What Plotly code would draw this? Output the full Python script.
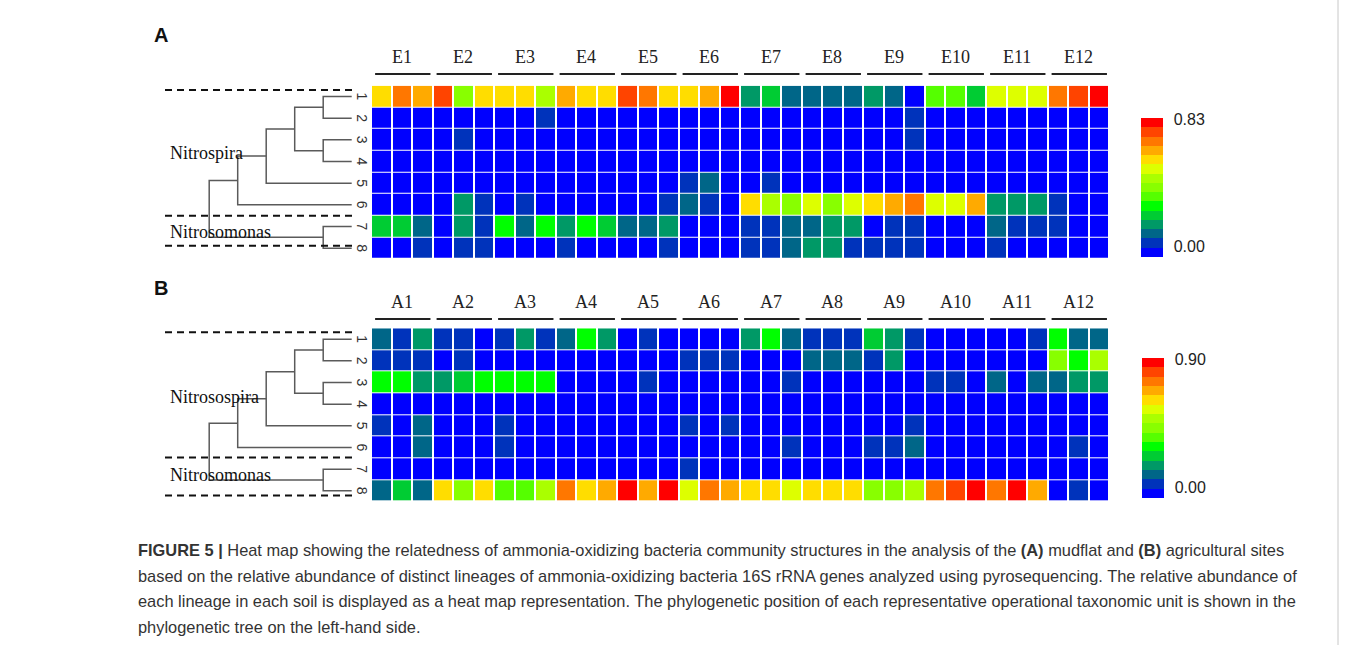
import plotly.graph_objects as go

W, H = 1357, 645

# ---------------- data (colour level 0..14) ----------------
mud_samples = [f"E{i}" for i in range(1, 13)]
agr_samples = [f"A{i}" for i in range(1, 13)]
row_labels = ["1", "2", "3", "4", "5", "6", "7", "8"]

mud_r1 = [10, 12, 11, 13, 7, 10, 10, 10, 8, 11, 10, 10, 13, 12, 10, 10, 11, 14, 3, 4, 2, 2, 2, 2, 3, 2, 0, 6, 6, 4, 9, 9, 9, 12, 13, 14]
mud_r2 = [0, 0, 0, 0, 0, 0, 0, 0, 1, 0, 0, 0, 0, 0, 0, 0, 0, 0, 0, 0, 0, 0, 0, 0, 0, 0, 1, 0, 0, 0, 0, 0, 0, 0, 0, 0]
mud_r3 = [0, 0, 0, 0, 1, 0, 0, 0, 0, 0, 0, 0, 0, 0, 0, 0, 0, 0, 0, 0, 0, 0, 0, 0, 0, 0, 1, 0, 0, 0, 0, 0, 0, 0, 0, 0]
mud_r4 = [0] * 36
mud_r5 = [0, 0, 0, 0, 0, 0, 0, 0, 0, 0, 0, 0, 0, 0, 0, 1, 2, 0, 0, 1, 0, 0, 0, 0, 0, 0, 0, 0, 0, 0, 0, 0, 0, 0, 0, 0]
mud_r6 = [0, 0, 0, 0, 3, 1, 0, 1, 0, 0, 0, 0, 0, 0, 1, 2, 1, 0, 10, 8, 7, 9, 7, 9, 10, 11, 12, 9, 9, 11, 3, 3, 3, 1, 0, 0]
mud_r7 = [4, 4, 2, 0, 3, 1, 5, 2, 5, 3, 5, 4, 2, 2, 3, 0, 0, 0, 1, 1, 2, 2, 3, 3, 0, 1, 1, 0, 0, 0, 2, 1, 1, 1, 0, 0]
mud_r8 = [0, 0, 1, 0, 1, 1, 0, 0, 0, 1, 0, 0, 0, 0, 1, 0, 0, 0, 1, 1, 2, 3, 3, 1, 1, 1, 1, 0, 0, 0, 1, 0, 0, 0, 0, 0]

agr_r1 = [2, 1, 3, 1, 1, 0, 1, 3, 1, 2, 5, 3, 0, 1, 0, 0, 0, 0, 3, 5, 2, 1, 1, 1, 4, 3, 1, 0, 0, 0, 0, 0, 1, 5, 2, 2]
agr_r2 = [1, 1, 1, 0, 1, 0, 0, 0, 0, 0, 0, 0, 0, 0, 0, 1, 1, 1, 0, 0, 0, 2, 2, 2, 1, 3, 0, 0, 0, 0, 0, 0, 0, 7, 5, 8]
agr_r3 = [5, 5, 3, 3, 4, 5, 5, 5, 5, 0, 0, 0, 0, 1, 0, 0, 0, 0, 0, 0, 1, 0, 0, 0, 0, 0, 0, 1, 1, 0, 2, 0, 2, 2, 3, 3]
agr_r4 = [0] * 36
agr_r5 = [1, 0, 2, 0, 0, 0, 1, 0, 0, 0, 0, 0, 0, 0, 0, 1, 0, 1, 0, 0, 0, 0, 0, 0, 0, 0, 1, 0, 0, 0, 0, 0, 0, 0, 0, 0]
agr_r6 = [0, 0, 2, 0, 0, 0, 1, 0, 0, 0, 0, 0, 0, 0, 0, 0, 0, 0, 0, 0, 1, 0, 0, 0, 1, 1, 2, 0, 0, 0, 0, 0, 0, 0, 1, 0]
agr_r7 = [0, 0, 0, 0, 0, 0, 0, 0, 0, 0, 0, 0, 0, 0, 0, 1, 0, 0, 0, 0, 0, 0, 0, 0, 0, 0, 0, 0, 0, 0, 0, 0, 0, 0, 0, 0]
agr_r8 = [2, 4, 2, 10, 7, 10, 6, 6, 8, 12, 10, 11, 14, 11, 14, 9, 12, 11, 10, 10, 9, 10, 10, 10, 7, 7, 8, 12, 13, 14, 12, 14, 11, 0, 1, 0]

mud_max_label = "0.83"
agr_max_label = "0.90"

# dendrogram: leaves 0..7, merges (child_a, child_b, depth)
tree_merges = [(0, 1, 1), (2, 3, 1), (8, 9, 2), (10, 4, 3), (11, 5, 4), (6, 7, 1), (12, 13, 5)]

# ---------------- styling ----------------
level_colors = ["#0000FF", "#0033BB", "#006688", "#009966", "#00CC33", "#00FF00", "#55FF00",
                "#88FF00", "#AAFF00", "#DDFF00", "#FFDD00", "#FFAA00", "#FF7700", "#FF4400", "#FF0000"]
n = len(level_colors)
cscale = []
for i, c in enumerate(level_colors):
    cscale.append([i / n, c])
    cscale.append([(i + 1) / n, c])


def fx(px):
    return px / W


def fy(py):
    return 1 - py / H


SERIF = "Liberation Serif"
SANS = "Liberation Sans"

fig = go.Figure()

panels = [
    dict(z=[mud_r1, mud_r2, mud_r3, mud_r4, mud_r5, mud_r6, mud_r7, mud_r8], samples=mud_samples,
         top=85.7, bot=259.0, xa="x", ya="y", xd="x3", cb_top=118, cb_x=1141, cb_len=139,
         maxlab=mud_max_label, letter="A", letter_y=35, lab_y=57, line_y=74,
         dashes=[-0.30, 5.50, 6.89], genus=("Nitrospira", 153), genus2=("Nitrosomonas", 231.7)),
    dict(z=[agr_r1, agr_r2, agr_r3, agr_r4, agr_r5, agr_r6, agr_r7, agr_r8], samples=agr_samples,
         top=328.3, bot=501.7, xa="x2", ya="y2", xd="x4", cb_top=358, cb_x=1142, cb_len=140,
         maxlab=agr_max_label, letter="B", letter_y=288, lab_y=302, line_y=319,
         dashes=[-0.32, 5.46, 7.21], genus=("Nitrosospira", 396.7), genus2=("Nitrosomonas", 475)),
]

X0, X1 = 371, 1109
LEAF_PX, STEP_PX = 351.7, 28.5

shapes, annotations = [], []
layout_axes = {}

for k, p in enumerate(panels):
    fig.add_trace(go.Heatmap(
        z=p["z"], x=list(range(36)), y=list(range(8)),
        colorscale=cscale, zmin=-0.5, zmax=14.5, xgap=2, ygap=1,
        xaxis=p["xa"], yaxis=p["ya"], hoverinfo="skip",
        colorbar=dict(x=fx(p["cb_x"]), xanchor="left", y=fy(p["cb_top"]), yanchor="top",
                      len=p["cb_len"], lenmode="pixels", thickness=22, thicknessmode="pixels",
                      outlinewidth=0, xpad=0, ypad=0,
                      tickvals=[0.6, 14.4], ticktext=["0.00", p["maxlab"]],
                      ticks="outside", ticklen=8, tickcolor="rgba(0,0,0,0)",
                      tickfont=dict(family=SANS, size=16, color="#222")),
    ))
    ydom = [fy(p["bot"]), fy(p["top"])]
    xname = "xaxis" if k == 0 else "xaxis2"
    yname = "yaxis" if k == 0 else "yaxis2"
    dname = "xaxis3" if k == 0 else "xaxis4"
    layout_axes[xname] = dict(domain=[fx(X0), fx(X1)], range=[-0.5, 35.5], anchor=p["ya"],
                              visible=False, fixedrange=True)
    layout_axes[yname] = dict(domain=ydom, range=[7.5, -0.5], anchor=p["xa"],
                              visible=False, fixedrange=True)
    layout_axes[dname] = dict(domain=[0, fx(X0)], anchor=p["ya"], visible=False,
                              range=[LEAF_PX / STEP_PX, (LEAF_PX - X0) / STEP_PX])

    # dendrogram
    pos = {i: (0, float(i)) for i in range(8)}
    xs, ys = [], []
    for j, (a, b, d) in enumerate(tree_merges):
        da, ya_ = pos[a]
        db, yb_ = pos[b]
        xs += [da, d, d, db, None]
        ys += [ya_, ya_, yb_, yb_, None]
        pos[8 + j] = (d, (ya_ + yb_) / 2)
    fig.add_trace(go.Scatter(x=xs, y=ys, mode="lines", xaxis=p["xd"], yaxis=p["ya"],
                             line=dict(color="#5a5a5a", width=1.5), hoverinfo="skip",
                             showlegend=False))

    # dashed separators
    for dy in p["dashes"]:
        shapes.append(dict(type="line", xref=p["xd"], yref=p["ya"], x0=(LEAF_PX - 165) / STEP_PX,
                           x1=(LEAF_PX - 353) / STEP_PX, y0=dy, y1=dy,
                           line=dict(color="#111", width=2, dash="7px,5px")))

    # row numbers
    for r, lab in enumerate(row_labels):
        annotations.append(dict(text=lab, xref="paper", yref=p["ya"], x=fx(362), y=r,
                                textangle=90, showarrow=False, xanchor="center", yanchor="middle",
                                font=dict(family=SANS, size=14, color="#333")))

    # sample group labels and underlines
    for g, s in enumerate(p["samples"]):
        annotations.append(dict(text=s, xref=p["xa"], yref="paper", x=3 * g + 1, y=fy(p["lab_y"]),
                                showarrow=False, xanchor="center", yanchor="middle",
                                font=dict(family=SERIF, size=18, color="#222")))
        shapes.append(dict(type="line", xref=p["xa"], yref="paper", x0=3 * g - 0.3, x1=3 * g + 2.4,
                           y0=fy(p["line_y"]), y1=fy(p["line_y"]),
                           line=dict(color="#222", width=2)))

    # panel letter and genus names
    annotations.append(dict(text="<b>" + p["letter"] + "</b>", xref="paper", yref="paper",
                            x=fx(152), y=fy(p["letter_y"]), xanchor="left", yanchor="middle",
                            showarrow=False, font=dict(family=SANS, size=20, color="#111")))
    for name, gy in (p["genus"], p["genus2"]):
        annotations.append(dict(text=name, xref="paper", yref="paper", x=fx(168), y=fy(gy),
                                xanchor="left", yanchor="middle", showarrow=False,
                                font=dict(family=SERIF, size=18, color="#111")))

# caption
caption_lines = [
    "<b>FIGURE 5 |</b> Heat map showing the relatedness of ammonia-oxidizing bacteria community structures in the analysis of the <b>(A)</b> mudflat and <b>(B)</b> agricultural sites",
    "based on the relative abundance of distinct lineages of ammonia-oxidizing bacteria 16S rRNA genes analyzed using pyrosequencing. The relative abundance of",
    "each lineage in each soil is displayed as a heat map representation. The phylogenetic position of each representative operational taxonomic unit is shown in the",
    "phylogenetic tree on the left-hand side.",
]
for i, line in enumerate(caption_lines):
    annotations.append(dict(text=line, xref="paper", yref="paper", x=fx(136), y=fy(550 + 25.6 * i),
                            xanchor="left", yanchor="middle", showarrow=False,
                            font=dict(family=SANS, size=16.4, color="#333")))

shapes.append(dict(type="line", xref="paper", yref="paper", x0=fx(1338), x1=fx(1338), y0=0, y1=1,
                   line=dict(color="#c8c8c8", width=1)))

fig.update_layout(width=W, height=H, autosize=False, margin=dict(l=0, r=0, t=0, b=0),
                  paper_bgcolor="white", plot_bgcolor="white", showlegend=False,
                  shapes=shapes, annotations=annotations, **layout_axes)

fig.write_html("out.html")
